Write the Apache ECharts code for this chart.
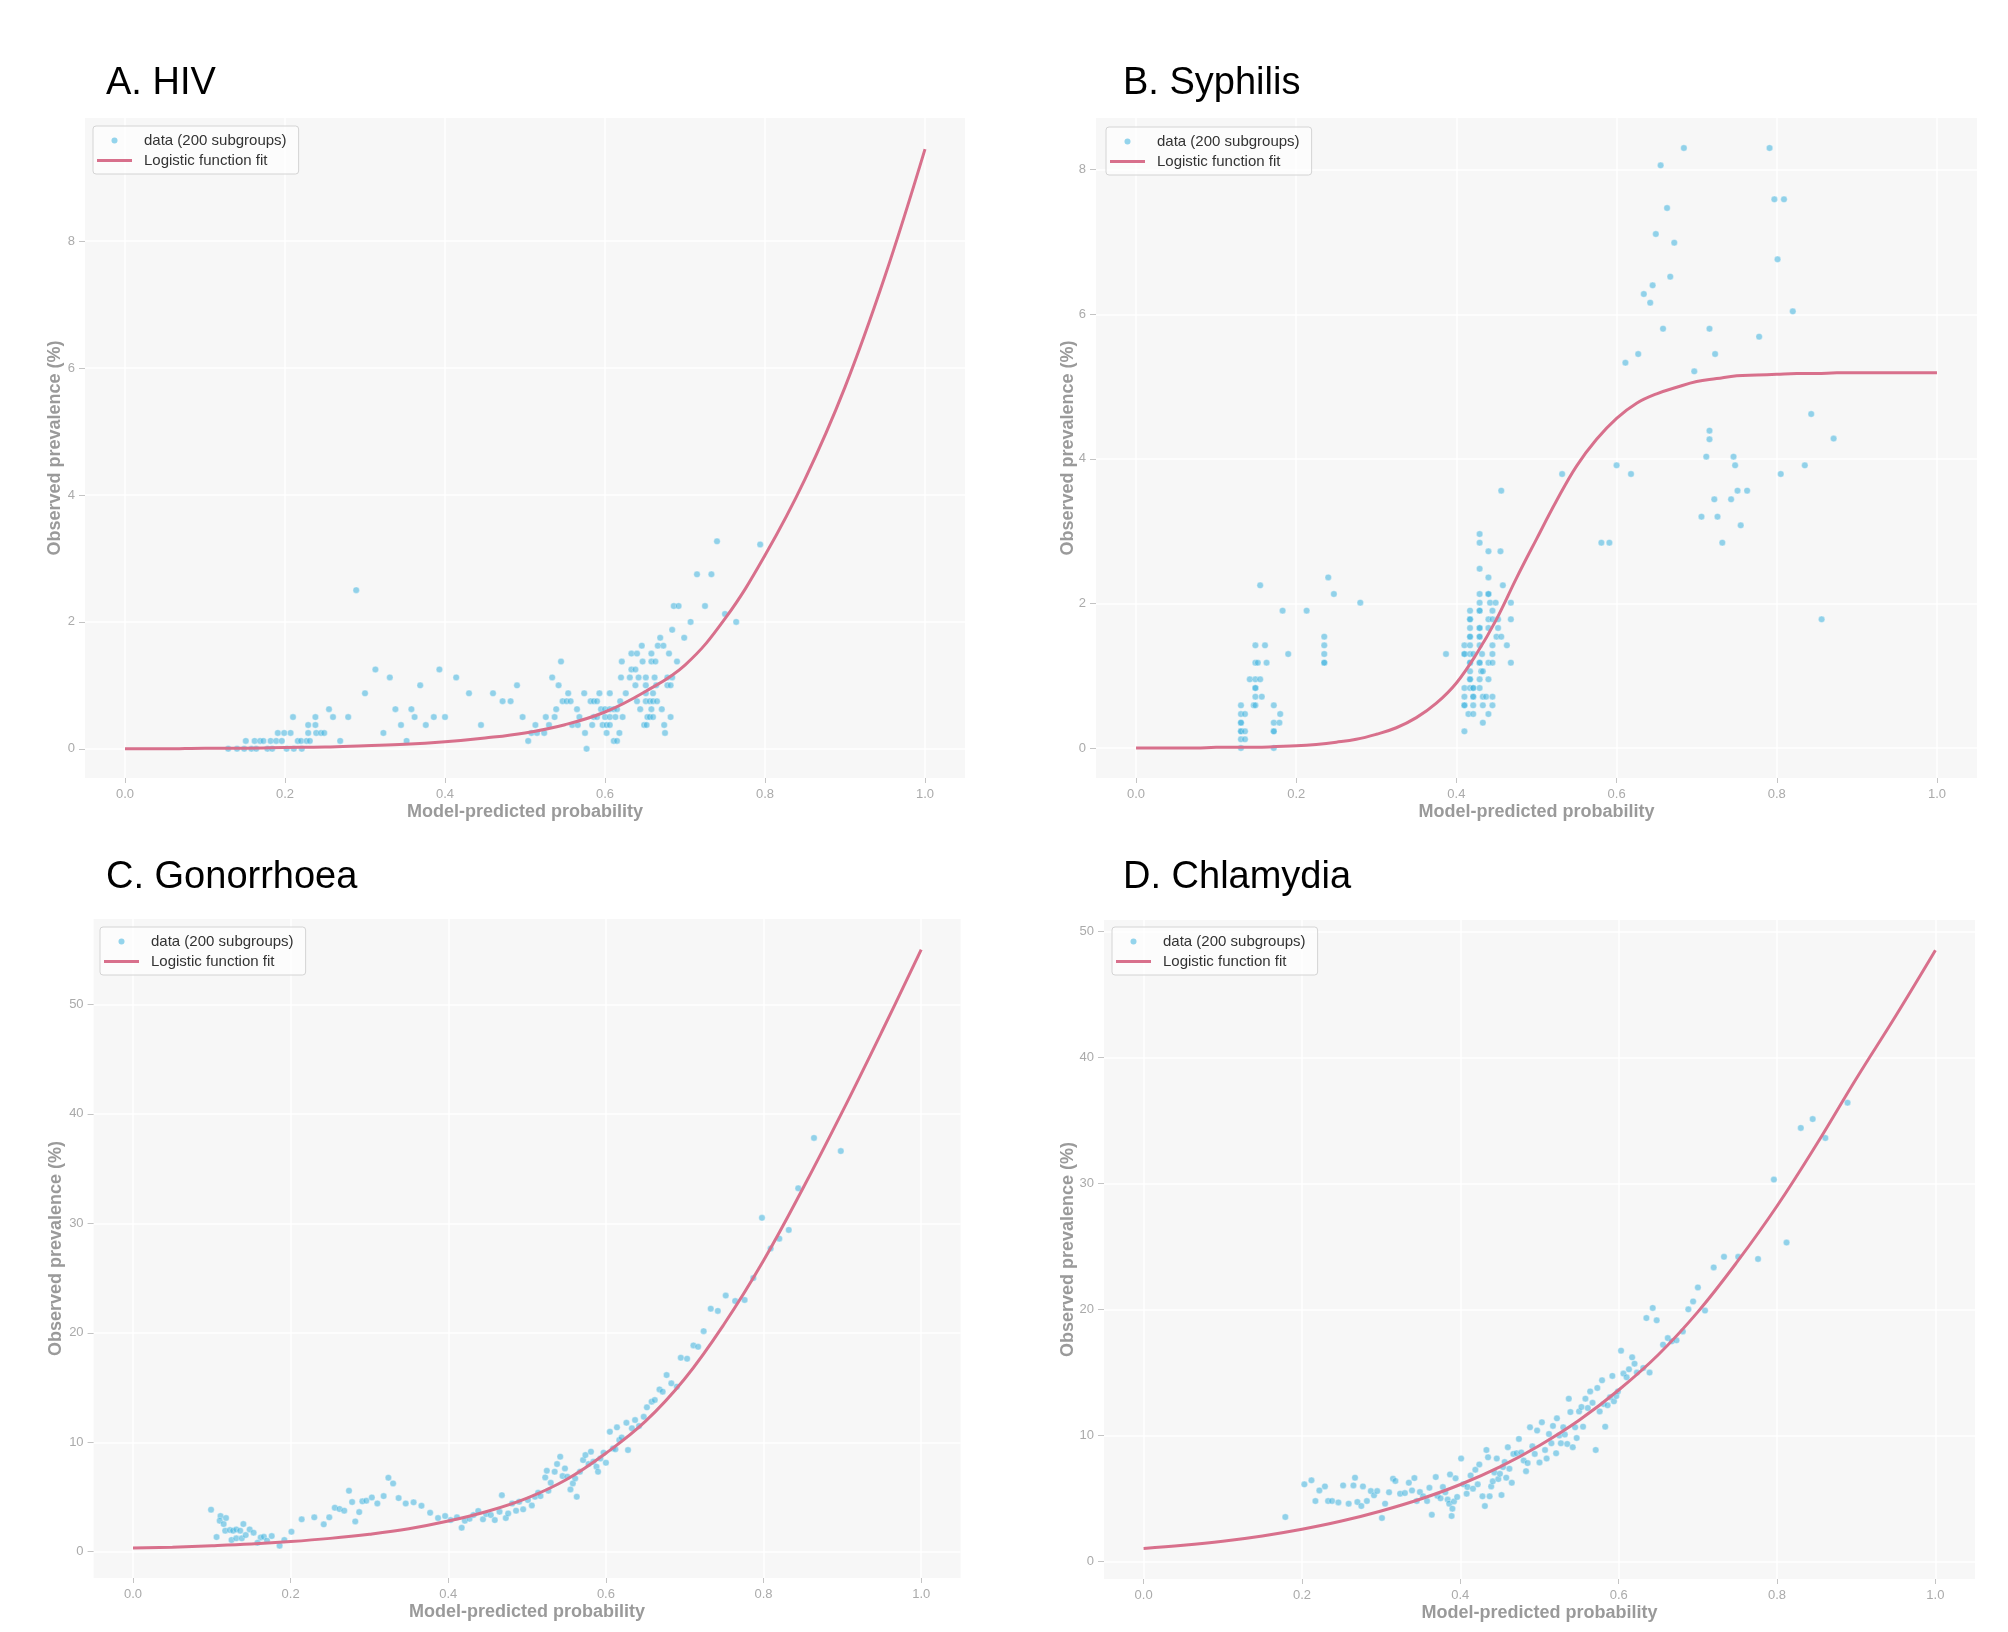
<!DOCTYPE html>
<html>
<head>
<meta charset="utf-8">
<title>Logistic fits: observed prevalence vs model-predicted probability</title>
<script src="https://cdn.jsdelivr.net/npm/echarts@6/dist/echarts.min.js"></script>
<style>
  html, body { margin: 0; padding: 0; background: #ffffff; }
  #chart { width: 2008px; height: 1632px; }
</style>
</head>
<body>
<div id="chart"></div>
<script>
// panel titles and shared labels
var panelTitles = ['A. HIV', 'B. Syphilis', 'C. Gonorrhoea', 'D. Chlamydia'];
var scatterName = 'data (200 subgroups)';
var fitName = 'Logistic function fit';

// tick labels
var xTicks = [0, 0.2, 0.4, 0.6, 0.8, 1.0];
var yTicksA = [0, 2, 4, 6, 8];
var yTicksB = [0, 2, 4, 6, 8];
var yTicksC = [0, 10, 20, 30, 40, 50];
var yTicksD = [0, 10, 20, 30, 40, 50];

// fitted curves
var fitX = [0, 0.05, 0.10, 0.15, 0.20, 0.25, 0.30, 0.35, 0.40, 0.45, 0.50,
            0.55, 0.60, 0.65, 0.70, 0.75, 0.80, 0.85, 0.90, 0.95, 1.0];
var hivFit = [0.00, 0.00, 0.01, 0.01, 0.02, 0.03, 0.05, 0.07, 0.11, 0.17, 0.25,
              0.38, 0.58, 0.90, 1.32, 2.05, 3.05, 4.25, 5.70, 7.45, 9.45];
var syphFitX = [0, 0.025, 0.05, 0.075, 0.10, 0.125, 0.15, 0.175, 0.20, 0.225, 0.25, 0.275, 0.30,
                0.325, 0.35, 0.375, 0.40, 0.425, 0.45, 0.475, 0.50, 0.525, 0.55, 0.575, 0.60,
                0.625, 0.65, 0.675, 0.70, 0.725, 0.75, 0.775, 0.80, 0.825, 0.85, 0.875, 0.90,
                0.925, 0.95, 0.975, 1.0];
var syphFit = [0, 0, 0, 0, 0.01, 0.01, 0.01, 0.02, 0.03, 0.05, 0.08, 0.12, 0.19,
               0.28, 0.42, 0.62, 0.90, 1.30, 1.78, 2.35, 2.89, 3.42, 3.90, 4.27, 4.56,
               4.77, 4.90, 4.99, 5.07, 5.11, 5.15, 5.16, 5.17, 5.18, 5.18, 5.19, 5.19,
               5.19, 5.19, 5.19, 5.19];
var gonFit = [0.33, 0.42, 0.55, 0.71, 0.93, 1.22, 1.60, 2.10, 2.80, 3.70, 4.90,
              6.60, 9.00, 11.9, 15.8, 20.8, 26.6, 33.2, 40.2, 47.5, 55.0];
var chlFit = [1.03, 1.28, 1.60, 2.02, 2.55, 3.20, 4.00, 4.95, 6.10, 7.50, 9.20,
              11.2, 13.6, 16.4, 19.8, 23.8, 28.2, 33.1, 38.3, 43.3, 48.5];

// subgroup points [predicted probability, observed prevalence %]
var hivPoints = [
  [0.129,0],[0.140,0],[0.149,0],[0.158,0],[0.164,0],[0.178,0],[0.184,0],[0.202,0],[0.211,0],[0.221,0],[0.577,0],
  [0.151,0.125],[0.162,0.125],[0.169,0.125],[0.173,0.125],[0.182,0.125],[0.189,0.125],[0.196,0.125],[0.216,0.125],
  [0.220,0.125],[0.227,0.125],[0.231,0.125],[0.269,0.125],[0.352,0.125],[0.504,0.125],[0.611,0.125],[0.615,0.125],
  [0.191,0.25],[0.199,0.25],[0.207,0.25],[0.229,0.25],[0.239,0.25],[0.245,0.25],[0.249,0.25],[0.323,0.25],
  [0.508,0.25],[0.515,0.25],[0.524,0.25],[0.575,0.25],[0.602,0.25],[0.618,0.25],[0.675,0.25],
  [0.229,0.375],[0.238,0.375],[0.345,0.375],[0.376,0.375],[0.445,0.375],[0.513,0.375],[0.530,0.375],[0.559,0.375],
  [0.566,0.375],[0.584,0.375],[0.597,0.375],[0.602,0.375],[0.606,0.375],[0.649,0.375],[0.652,0.375],[0.674,0.375],
  [0.210,0.5],[0.238,0.5],[0.260,0.5],[0.279,0.5],[0.362,0.5],[0.386,0.5],[0.400,0.5],[0.497,0.5],[0.526,0.5],
  [0.537,0.5],[0.568,0.5],[0.586,0.5],[0.590,0.5],[0.600,0.5],[0.606,0.5],[0.613,0.5],[0.622,0.5],[0.653,0.5],
  [0.656,0.5],[0.660,0.5],[0.682,0.5],
  [0.255,0.625],[0.338,0.625],[0.358,0.625],[0.539,0.625],[0.565,0.625],[0.595,0.625],[0.600,0.625],[0.606,0.625],
  [0.611,0.625],[0.615,0.625],[0.644,0.625],[0.658,0.625],[0.671,0.625],
  [0.472,0.75],[0.482,0.75],[0.547,0.75],[0.552,0.75],[0.557,0.75],[0.582,0.75],[0.586,0.75],[0.590,0.75],
  [0.619,0.75],[0.640,0.75],[0.651,0.75],[0.656,0.75],[0.660,0.75],[0.665,0.75],
  [0.300,0.875],[0.430,0.875],[0.460,0.875],[0.554,0.875],[0.574,0.875],[0.593,0.875],[0.606,0.875],[0.626,0.875],
  [0.651,0.875],[0.660,0.875],
  [0.369,1.0],[0.490,1.0],[0.542,1.0],[0.638,1.0],[0.651,1.0],[0.664,1.0],[0.678,1.0],[0.682,1.0],
  [0.331,1.125],[0.414,1.125],[0.534,1.125],[0.620,1.125],[0.631,1.125],[0.642,1.125],[0.651,1.125],[0.662,1.125],
  [0.678,1.125],[0.684,1.125],
  [0.313,1.25],[0.393,1.25],[0.633,1.25],[0.638,1.25],
  [0.545,1.375],[0.621,1.375],[0.647,1.375],[0.658,1.375],[0.663,1.375],[0.690,1.375],
  [0.633,1.5],[0.640,1.5],[0.658,1.5],[0.680,1.5],
  [0.646,1.625],[0.666,1.625],[0.673,1.625],
  [0.669,1.75],[0.699,1.75],[0.684,1.875],[0.707,2.0],[0.764,2.0],[0.750,2.125],
  [0.686,2.25],[0.692,2.25],[0.725,2.25],[0.289,2.5],[0.715,2.75],[0.733,2.75],[0.740,3.27],[0.794,3.22]
];

var syphPoints = [
  [0.131,0],[0.172,0],[0.131,0.12],[0.136,0.12],[0.131,0.23],[0.131,0.23],[0.136,0.23],[0.172,0.23],[0.172,0.23],
  [0.131,0.35],[0.131,0.35],[0.172,0.35],[0.179,0.35],[0.131,0.47],[0.136,0.47],[0.180,0.47],
  [0.131,0.59],[0.147,0.59],[0.149,0.59],[0.172,0.59],[0.149,0.71],[0.157,0.71],[0.149,0.83],[0.149,0.83],
  [0.142,0.95],[0.149,0.95],[0.155,0.95],[0.149,1.18],[0.152,1.18],[0.163,1.18],[0.235,1.18],[0.235,1.18],
  [0.190,1.30],[0.235,1.30],[0.149,1.42],[0.161,1.42],[0.235,1.42],[0.235,1.54],[0.183,1.90],[0.213,1.90],
  [0.280,2.01],[0.247,2.13],[0.155,2.25],[0.240,2.36],
  [0.410,0.23],[0.433,0.35],[0.415,0.47],[0.421,0.47],[0.440,0.47],
  [0.410,0.59],[0.410,0.59],[0.421,0.59],[0.433,0.59],[0.445,0.59],
  [0.410,0.71],[0.421,0.71],[0.421,0.71],[0.433,0.71],[0.437,0.71],[0.445,0.71],
  [0.410,0.83],[0.417,0.83],[0.421,0.83],[0.421,0.83],[0.429,0.83],
  [0.417,0.95],[0.417,0.95],[0.429,0.95],[0.440,0.95],[0.417,1.06],[0.431,1.06],[0.433,1.06],
  [0.417,1.18],[0.417,1.18],[0.429,1.18],[0.429,1.18],[0.440,1.18],[0.445,1.18],[0.468,1.18],
  [0.387,1.30],[0.410,1.30],[0.410,1.30],[0.417,1.30],[0.421,1.30],[0.432,1.30],[0.445,1.30],
  [0.410,1.42],[0.417,1.42],[0.429,1.42],[0.445,1.42],[0.463,1.42],
  [0.417,1.54],[0.417,1.54],[0.429,1.54],[0.429,1.54],[0.450,1.54],[0.456,1.54],
  [0.417,1.66],[0.429,1.66],[0.429,1.66],[0.440,1.66],[0.452,1.66],
  [0.417,1.78],[0.417,1.78],[0.440,1.78],[0.445,1.78],[0.452,1.78],[0.468,1.78],
  [0.417,1.90],[0.429,1.90],[0.429,1.90],[0.445,1.90],[0.429,2.01],[0.442,2.01],[0.449,2.01],[0.468,2.01],
  [0.429,2.13],[0.440,2.13],[0.440,2.13],[0.458,2.25],[0.440,2.36],[0.429,2.48],[0.440,2.72],[0.455,2.72],
  [0.429,2.84],[0.429,2.96],[0.456,3.56],[0.532,3.79],[0.600,3.91],[0.581,2.84],[0.591,2.84],
  [0.684,8.30],[0.791,8.30],[0.655,8.06],[0.797,7.59],[0.809,7.59],[0.663,7.47],[0.649,7.11],[0.672,6.99],
  [0.801,6.76],[0.667,6.52],[0.645,6.40],[0.634,6.28],[0.642,6.16],[0.820,6.04],[0.658,5.80],[0.716,5.80],
  [0.778,5.69],[0.627,5.45],[0.723,5.45],[0.611,5.33],[0.697,5.21],[0.843,4.62],[0.871,4.28],[0.716,4.39],
  [0.716,4.27],[0.712,4.03],[0.746,4.03],[0.748,3.91],[0.618,3.79],[0.805,3.79],[0.835,3.91],[0.751,3.56],
  [0.763,3.56],[0.722,3.44],[0.743,3.44],[0.706,3.20],[0.726,3.20],[0.755,3.08],[0.732,2.84],[0.856,1.78]
];

var gonPoints = [
  [0.099,3.84],[0.106,1.34],[0.111,3.26],[0.118,3.08],[0.110,2.83],[0.115,2.53],[0.117,1.92],[0.123,1.98],
  [0.127,1.92],[0.131,2.04],[0.136,1.92],[0.140,2.53],[0.125,1.07],[0.131,1.22],[0.138,1.22],[0.143,1.52],
  [0.148,2.04],[0.153,1.74],[0.162,1.31],[0.166,1.37],[0.176,1.43],[0.158,0.82],[0.170,1.01],[0.186,0.55],
  [0.192,1.07],[0.201,1.83],[0.214,2.96],[0.230,3.14],[0.242,2.50],[0.249,3.14],[0.256,4.02],[0.262,3.90],
  [0.268,3.75],[0.274,5.57],[0.278,4.54],[0.282,2.77],[0.287,3.62],[0.291,4.60],[0.296,4.66],[0.303,4.96],
  [0.310,4.41],[0.318,5.08],[0.324,6.76],[0.330,6.24],[0.337,4.90],[0.346,4.41],[0.356,4.51],[0.366,4.20],
  [0.377,3.56],[0.387,3.08],[0.396,3.26],[0.403,2.89],[0.411,3.14],[0.417,2.19],[0.421,2.83],[0.427,3.01],
  [0.432,3.35],[0.438,3.72],[0.444,2.96],[0.448,3.44],[0.454,3.35],[0.459,2.89],[0.465,3.65],[0.468,5.17],
  [0.473,3.08],[0.476,3.50],[0.481,4.41],[0.486,3.75],[0.490,4.57],[0.495,3.87],[0.501,4.72],[0.506,4.23],
  [0.510,5.02],[0.514,5.39],[0.517,5.08],[0.523,6.79],[0.525,7.40],[0.527,5.57],[0.530,6.30],[0.535,7.31],
  [0.538,8.01],[0.542,8.68],[0.545,6.91],[0.548,7.61],[0.551,6.85],[0.555,5.69],[0.558,6.24],[0.561,6.70],
  [0.563,5.02],[0.567,7.31],[0.571,8.37],[0.574,8.83],[0.578,8.01],[0.581,9.14],[0.584,8.22],[0.588,7.77],
  [0.590,7.31],[0.593,8.52],[0.597,9.05],[0.600,8.13],[0.605,10.96],[0.609,9.44],[0.612,9.35],[0.614,11.36],
  [0.617,10.20],[0.620,10.44],[0.626,11.78],[0.628,9.29],[0.633,11.27],[0.637,12.03],[0.642,11.48],[0.648,12.33],
  [0.652,13.19],[0.658,13.71],[0.662,13.86],[0.668,14.83],[0.672,14.62],[0.677,16.14],[0.683,15.38],[0.690,15.08],
  [0.695,17.72],[0.703,17.63],[0.711,18.85],[0.717,18.72],[0.724,20.15],[0.733,22.2],[0.742,22.0],[0.752,23.4],
  [0.764,22.9],[0.776,23.0],[0.787,25.0],[0.798,30.5],[0.809,27.7],[0.820,28.6],[0.832,29.4],[0.844,33.2],
  [0.864,37.8],[0.898,36.6]
];

var chlPoints = [
  [0.179,3.52],[0.203,6.11],[0.212,6.43],[0.217,4.79],[0.222,5.63],[0.229,5.95],[0.233,4.79],[0.238,4.79],
  [0.246,4.68],[0.252,6.03],[0.259,4.58],[0.265,6.03],[0.267,6.64],[0.270,4.71],[0.275,4.39],[0.277,5.95],
  [0.282,4.79],[0.287,5.58],[0.291,5.24],[0.295,5.58],[0.301,3.44],[0.305,4.58],[0.310,5.48],[0.315,6.56],
  [0.318,6.38],[0.324,5.37],[0.330,5.42],[0.335,6.24],[0.339,5.63],[0.342,6.61],[0.345,4.79],[0.349,5.50],
  [0.353,5.16],[0.358,4.79],[0.361,5.84],[0.364,3.70],[0.369,6.69],[0.371,5.21],[0.375,5.00],[0.378,5.90],
  [0.381,5.48],[0.384,4.90],[0.386,4.58],[0.387,6.90],[0.389,3.60],[0.390,4.18],[0.392,4.76],[0.394,6.59],
  [0.396,5.11],[0.401,8.16],[0.404,6.11],[0.408,5.37],[0.409,5.90],[0.413,6.82],[0.416,5.77],[0.419,7.27],
  [0.422,6.11],[0.424,7.69],[0.428,5.16],[0.431,4.39],[0.433,8.84],[0.435,8.26],[0.437,5.16],[0.439,5.95],
  [0.441,6.35],[0.443,7.06],[0.446,8.16],[0.448,6.53],[0.450,6.95],[0.452,5.26],[0.454,7.48],[0.456,7.88],
  [0.458,6.64],[0.460,9.06],[0.462,7.35],[0.465,6.24],[0.467,8.53],[0.471,8.58],[0.474,9.72],[0.477,8.64],
  [0.480,8.00],[0.483,7.16],[0.485,7.80],[0.488,10.64],[0.491,9.13],[0.494,8.53],[0.497,10.38],[0.500,7.85],
  [0.503,11.04],[0.507,8.84],[0.509,8.16],[0.512,10.11],[0.515,9.37],[0.517,10.75],[0.521,8.58],[0.522,11.35],
  [0.525,9.98],[0.527,9.37],[0.530,10.64],[0.532,10.06],[0.535,9.32],[0.537,12.91],[0.539,11.85],[0.542,9.06],
  [0.545,10.64],[0.547,9.79],[0.550,11.90],[0.553,12.25],[0.555,10.69],[0.558,12.91],[0.561,12.17],[0.564,13.49],
  [0.567,12.59],[0.571,8.84],[0.573,13.76],[0.576,11.90],[0.579,14.37],[0.581,12.49],[0.583,10.69],[0.586,12.38],
  [0.589,13.02],[0.592,14.72],[0.594,12.70],[0.597,13.12],[0.599,13.49],[0.603,16.72],[0.606,14.90],[0.610,14.61],
  [0.613,15.24],[0.617,16.19],[0.620,15.69],[0.623,14.98],[0.631,15.35],[0.635,19.31],[0.639,14.98],[0.643,20.11],
  [0.648,19.13],[0.656,17.20],[0.662,17.72],[0.667,17.46],[0.673,17.54],[0.681,18.25],[0.688,20.00],[0.694,20.63],
  [0.700,21.74],[0.709,19.90],[0.720,23.33],[0.733,24.17],[0.751,24.17],[0.776,24.0],[0.796,30.3],[0.812,25.3],
  [0.830,34.4],[0.845,35.1],[0.861,33.6],[0.889,36.4]
];

// layout of the four panels (pixel boxes and axis ranges)
var panels = [
  { left: 85,   top: 118, width: 880, height: 660, yMin: -0.46, yMax: 9.94, yTicks: yTicksA, yGap: 21,
    titleLeft: 106, titleTop: 65, legendLeft: 93, legendTop: 126 },
  { left: 1096, top: 118, width: 881, height: 660, yMin: -0.415, yMax: 8.715, yTicks: yTicksB, yGap: 19,
    titleLeft: 1123, titleTop: 65, legendLeft: 1106, legendTop: 127 },
  { left: 93.6, top: 919, width: 867, height: 659, yMin: -2.4, yMax: 57.8, yTicks: yTicksC, yGap: 29,
    titleLeft: 106, titleTop: 859, legendLeft: 100, legendTop: 927 },
  { left: 1104, top: 920, width: 871, height: 659, yMin: -1.4, yMax: 50.9, yTicks: yTicksD, yGap: 27,
    titleLeft: 1123, titleTop: 859, legendLeft: 1112, legendTop: 927 }
];

var FONT = '"Liberation Sans", Arial, sans-serif';
var DOT_COLOR = 'rgb(62,178,222)';
var FIT_COLOR = '#d8708c';
var TICK_COLOR = '#c4c4c4';
var LINE_ICON = 'path://M0,0 M0,1.5 L35,1.5 L35,4.5 L0,4.5 Z M35,6';

function zip(xs, ys) {
  return xs.map(function (x, i) { return [x, ys[i]]; });
}

var scatterSets = [hivPoints, syphPoints, gonPoints, chlPoints];
var fitSets = [zip(fitX, hivFit), zip(syphFitX, syphFit), zip(fitX, gonFit), zip(fitX, chlFit)];

var option = {
  animation: false,
  backgroundColor: '#ffffff',
  textStyle: { fontFamily: FONT },
  title: [], legend: [], grid: [], xAxis: [], yAxis: [], series: []
};

panels.forEach(function (p, i) {
  option.title.push({
    text: panelTitles[i], left: p.titleLeft, top: p.titleTop, padding: 0,
    textStyle: { fontFamily: FONT, fontSize: 38, fontWeight: 'normal', color: '#000000' }
  });
  option.grid.push({
    left: p.left, top: p.top, width: p.width, height: p.height,
    show: true, backgroundColor: '#f7f7f7', borderWidth: 0, containLabel: false
  });
  option.xAxis.push({
    gridIndex: i, type: 'value', min: -0.05, max: 1.05, position: 'bottom',
    name: 'Model-predicted probability', nameLocation: 'middle', nameGap: 25, nameMoveOverlap: false,
    nameTextStyle: { fontFamily: FONT, fontSize: 18, fontWeight: 'bold', color: '#9a9a9a' },
    axisLine: { show: false, onZero: false },
    axisTick: { show: true, customValues: xTicks, length: 5, lineStyle: { color: TICK_COLOR, width: 1 } },
    axisLabel: { customValues: xTicks, color: '#aaaaaa', fontSize: 13, margin: 10,
                 formatter: function (v) { return v.toFixed(1); } },
    splitLine: { show: true, lineStyle: { color: '#ffffff', width: 1.5 } }
  });
  option.yAxis.push({
    gridIndex: i, type: 'value', min: p.yMin, max: p.yMax, position: 'left',
    name: 'Observed prevalence (%)', nameLocation: 'middle', nameGap: p.yGap, nameRotate: 90,
    nameMoveOverlap: false,
    nameTextStyle: { fontFamily: FONT, fontSize: 18, fontWeight: 'bold', color: '#9a9a9a' },
    axisLine: { show: false, onZero: false },
    axisTick: { show: true, customValues: p.yTicks, length: 6, lineStyle: { color: TICK_COLOR, width: 1 } },
    axisLabel: { customValues: p.yTicks, color: '#aaaaaa', fontSize: 13, margin: 10 },
    splitLine: { show: true, lineStyle: { color: '#ffffff', width: 1.5 } }
  });
  option.series.push({
    name: scatterName, type: 'scatter', xAxisIndex: i, yAxisIndex: i,
    data: scatterSets[i], symbolSize: 6.5,
    itemStyle: { color: DOT_COLOR, opacity: 0.55, borderColor: '#ffffff', borderWidth: 0.6 },
    emphasis: { disabled: true }, z: 2
  });
  option.series.push({
    name: fitName, type: 'line', xAxisIndex: i, yAxisIndex: i,
    data: fitSets[i], symbol: 'none', smooth: 0.4,
    lineStyle: { color: FIT_COLOR, width: 3 }, itemStyle: { color: FIT_COLOR },
    emphasis: { disabled: true }, z: 3
  });
  option.legend.push({
    left: p.legendLeft, top: p.legendTop, orient: 'vertical', selectedMode: false,
    itemWidth: 35, itemHeight: 6, itemGap: 5, padding: [7, 12, 6, 4],
    backgroundColor: 'rgba(255,255,255,0.6)', borderColor: '#d4d4d4', borderWidth: 1, borderRadius: 3,
    textStyle: { fontFamily: FONT, fontSize: 15, color: '#333333', padding: [0, 0, 0, 7] },
    data: [
      { name: scatterName, icon: 'circle', itemStyle: { opacity: 0.55, borderWidth: 0 } },
      { name: fitName, icon: LINE_ICON, itemStyle: { borderWidth: 0 } }
    ]
  });
});

var chart = echarts.init(document.getElementById('chart'), null, { renderer: 'canvas' });
chart.setOption(option);
</script>
</body>
</html>
